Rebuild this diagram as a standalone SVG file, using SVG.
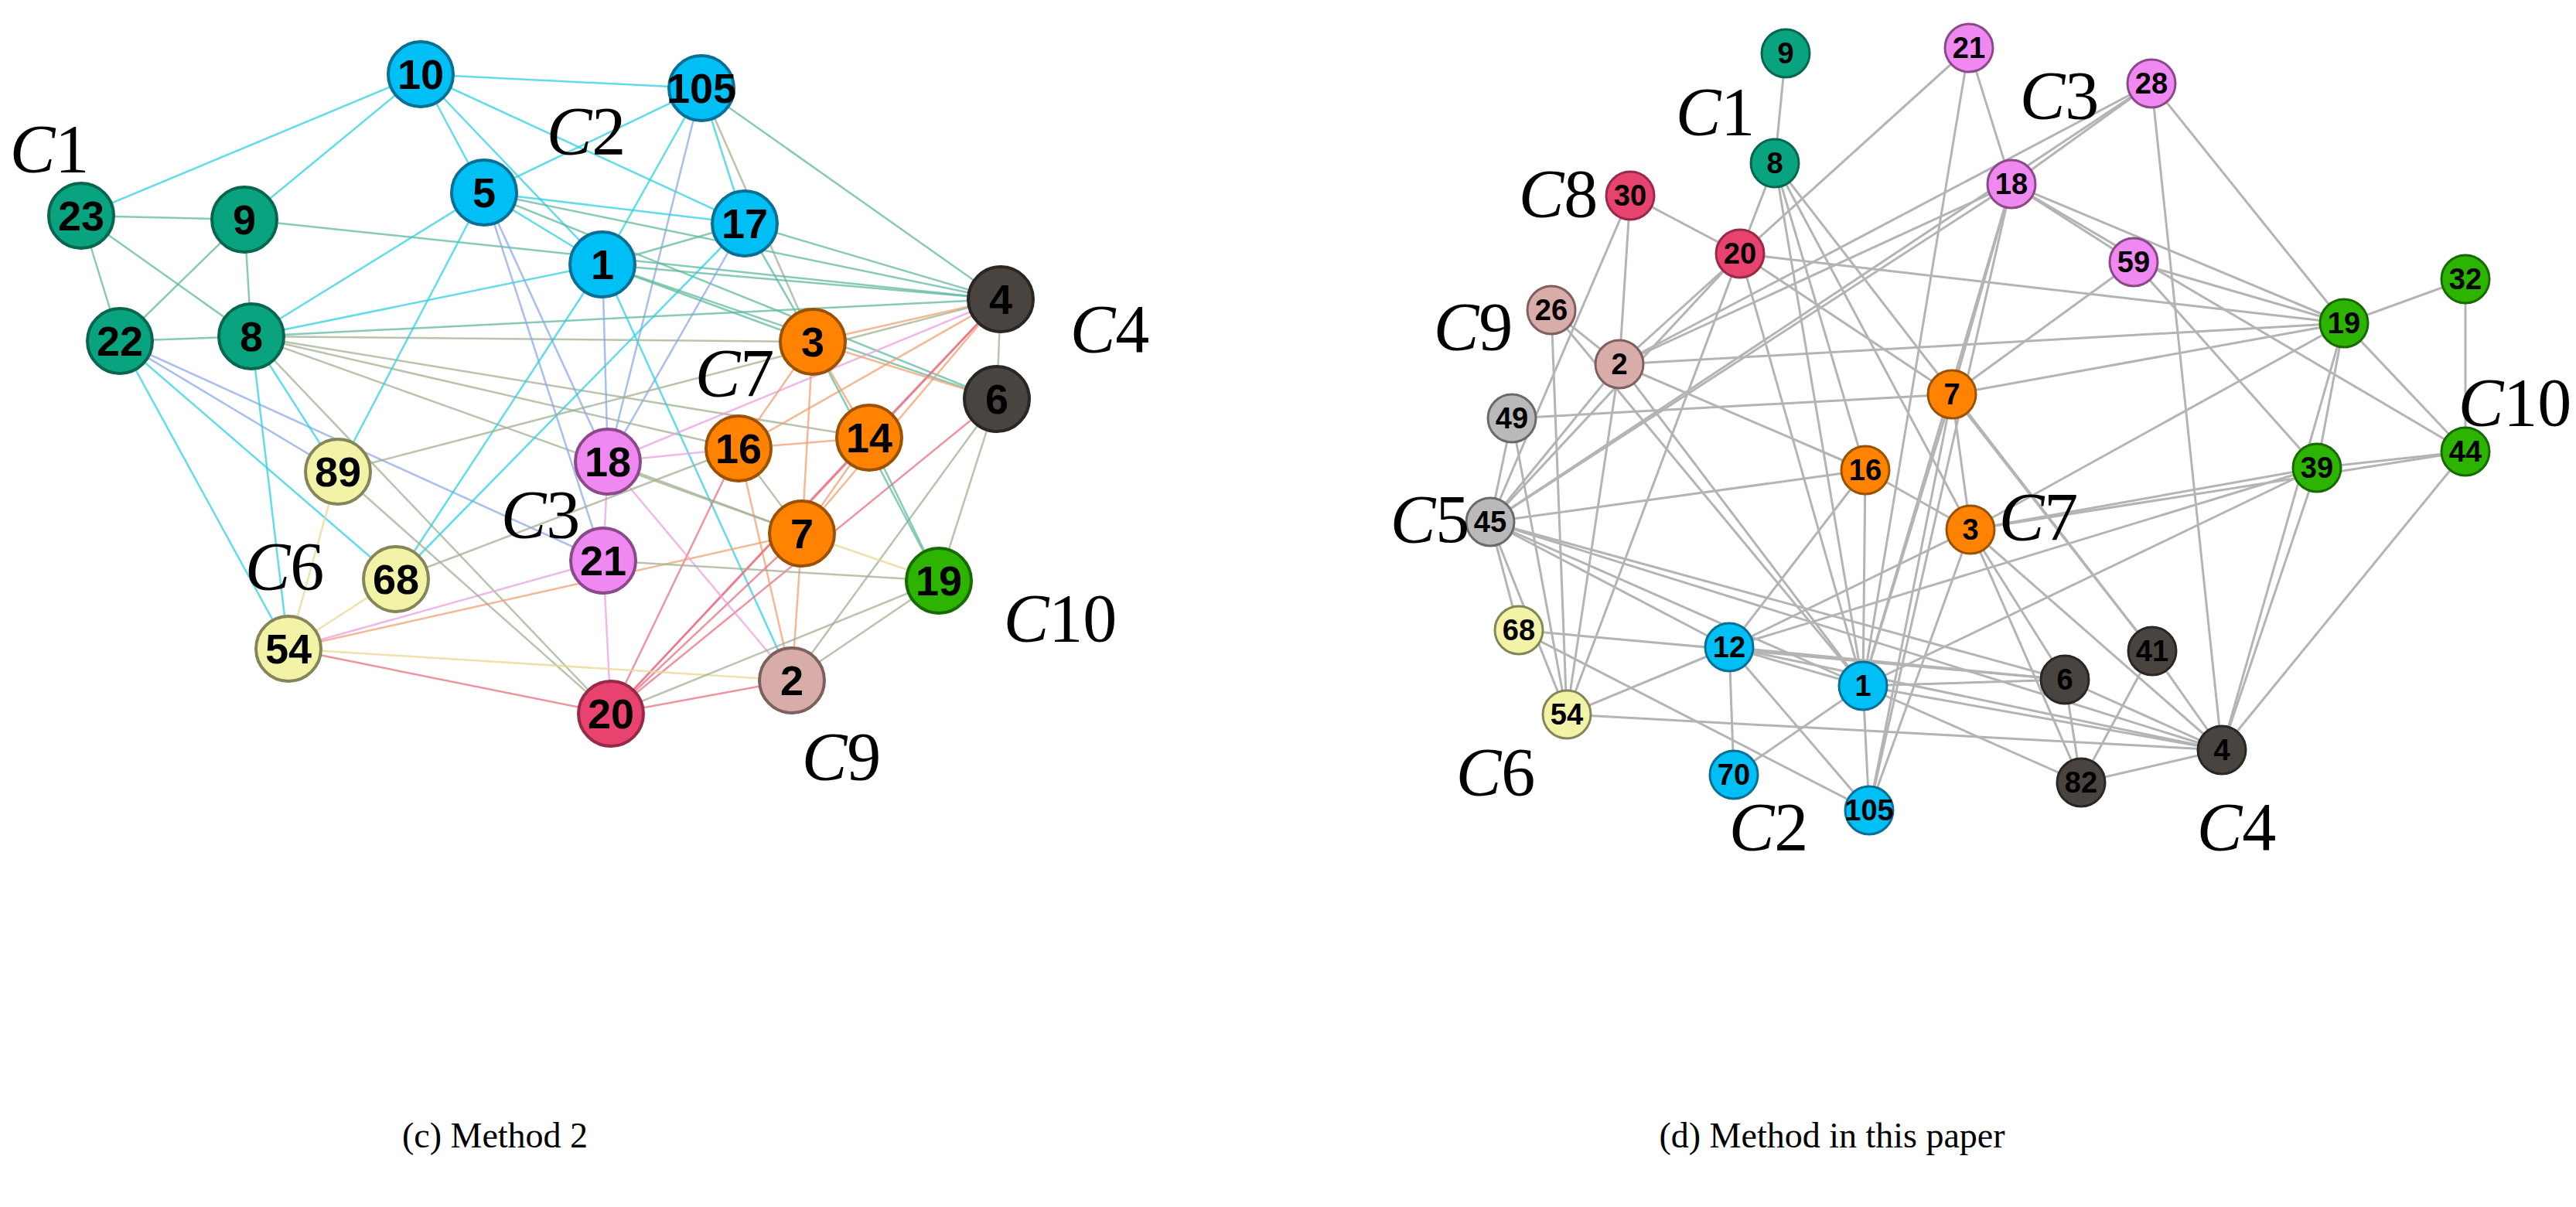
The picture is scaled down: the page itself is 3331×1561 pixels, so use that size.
<svg xmlns="http://www.w3.org/2000/svg" width="3331" height="1561" viewBox="0 0 3331 1561">
<style>
.L circle{stroke-width:4}
.L text{font:bold 54px "Liberation Sans",Arial,sans-serif;text-anchor:middle;dominant-baseline:central;fill:#000}
.R circle{stroke-width:3}
.R text{font:bold 38px "Liberation Sans",Arial,sans-serif;text-anchor:middle;dominant-baseline:central;fill:#000}
.c1{fill:#0aa37f;stroke:#07664f}.c2{fill:#00bff5;stroke:#0a6f95}.c3{fill:#ef88f0;stroke:#8a4a8a}.c4{fill:#4a4440;stroke:#2a2624}
.c5{fill:#b9b9b9;stroke:#6a6a6a}.c6{fill:#f3f3a8;stroke:#85855a}.c7{fill:#ff8200;stroke:#9a5200}.c8{fill:#e8426e;stroke:#962a48}
.c9{fill:#d8aca8;stroke:#7e605e}.c10{fill:#2db400;stroke:#176a00}
.lab{font:88px "Liberation Serif","Times New Roman",serif;text-anchor:middle;dominant-baseline:central;fill:#000}
.cap{font:46px "Liberation Serif","Times New Roman",serif;text-anchor:middle;fill:#000}
#edgesL line{stroke-width:2.5;stroke-opacity:.75}
#edgesR line{stroke:#b4b4b4;stroke-width:3}
.a{stroke:#2ed0e0}.b{stroke:#5fb8a0}.o{stroke:#f0a070}.p{stroke:#e8a0e0}.g{stroke:#a0b090}.r{stroke:#e87080}.y{stroke:#e8d890}.u{stroke:#8aa8e8}
</style>
<g id="edgesL">
<line class="a" x1="544" y1="96" x2="907" y2="114"/><line class="a" x1="544" y1="96" x2="105" y2="279"/><line class="a" x1="544" y1="96" x2="316" y2="284"/>
<line class="a" x1="544" y1="96" x2="626" y2="249"/><line class="a" x1="544" y1="96" x2="779" y2="342"/><line class="a" x1="544" y1="96" x2="963" y2="289"/>
<line class="a" x1="907" y1="114" x2="626" y2="249"/><line class="a" x1="907" y1="114" x2="963" y2="289"/><line class="a" x1="907" y1="114" x2="779" y2="342"/>
<line class="u" x1="907" y1="114" x2="786" y2="597"/><line class="b" x1="907" y1="114" x2="1294" y2="387"/><line class="g" x1="907" y1="114" x2="1051" y2="442"/>
<line class="b" x1="105" y1="279" x2="316" y2="284"/><line class="b" x1="105" y1="279" x2="155" y2="441"/><line class="b" x1="105" y1="279" x2="325" y2="435"/>
<line class="b" x1="316" y1="284" x2="155" y2="441"/><line class="b" x1="316" y1="284" x2="325" y2="435"/><line class="b" x1="316" y1="284" x2="1294" y2="387"/>
<line class="b" x1="155" y1="441" x2="325" y2="435"/><line class="u" x1="155" y1="441" x2="437" y2="610"/><line class="a" x1="155" y1="441" x2="373" y2="839"/>
<line class="a" x1="155" y1="441" x2="512" y2="749"/><line class="u" x1="155" y1="441" x2="780" y2="725"/>
<line class="a" x1="325" y1="435" x2="626" y2="249"/><line class="a" x1="325" y1="435" x2="779" y2="342"/><line class="b" x1="325" y1="435" x2="1294" y2="387"/>
<line class="g" x1="325" y1="435" x2="1051" y2="442"/><line class="g" x1="325" y1="435" x2="1124" y2="566"/><line class="g" x1="325" y1="435" x2="1037" y2="690"/>
<line class="g" x1="325" y1="435" x2="955" y2="580"/><line class="a" x1="325" y1="435" x2="437" y2="610"/><line class="a" x1="325" y1="435" x2="373" y2="839"/>
<line class="g" x1="325" y1="435" x2="790" y2="923"/>
<line class="a" x1="626" y1="249" x2="963" y2="289"/><line class="a" x1="626" y1="249" x2="779" y2="342"/><line class="b" x1="626" y1="249" x2="1294" y2="387"/>
<line class="u" x1="626" y1="249" x2="786" y2="597"/><line class="u" x1="626" y1="249" x2="780" y2="725"/><line class="a" x1="626" y1="249" x2="437" y2="610"/>
<line class="b" x1="626" y1="249" x2="1289" y2="516"/>
<line class="b" x1="963" y1="289" x2="779" y2="342"/><line class="b" x1="963" y1="289" x2="1294" y2="387"/><line class="b" x1="963" y1="289" x2="1051" y2="442"/>
<line class="u" x1="963" y1="289" x2="786" y2="597"/><line class="a" x1="963" y1="289" x2="512" y2="749"/>
<line class="u" x1="779" y1="342" x2="786" y2="597"/><line class="b" x1="779" y1="342" x2="1051" y2="442"/><line class="b" x1="779" y1="342" x2="1294" y2="387"/>
<line class="a" x1="779" y1="342" x2="1024" y2="880"/><line class="a" x1="779" y1="342" x2="512" y2="749"/><line class="b" x1="779" y1="342" x2="1289" y2="516"/>
<line class="g" x1="1294" y1="387" x2="1289" y2="516"/><line class="o" x1="1294" y1="387" x2="1051" y2="442"/><line class="o" x1="1294" y1="387" x2="955" y2="580"/>
<line class="r" x1="1294" y1="387" x2="1124" y2="566"/><line class="p" x1="1294" y1="387" x2="786" y2="597"/><line class="o" x1="1294" y1="387" x2="1037" y2="690"/>
<line class="r" x1="1294" y1="387" x2="790" y2="923"/><line class="g" x1="1294" y1="387" x2="437" y2="610"/>
<line class="g" x1="1289" y1="516" x2="1214" y2="751"/><line class="r" x1="1289" y1="516" x2="790" y2="923"/><line class="g" x1="1289" y1="516" x2="1024" y2="880"/>
<line class="o" x1="1051" y1="442" x2="955" y2="580"/><line class="o" x1="1051" y1="442" x2="1124" y2="566"/><line class="o" x1="1051" y1="442" x2="1037" y2="690"/>
<line class="b" x1="1051" y1="442" x2="1214" y2="751"/><line class="o" x1="1051" y1="442" x2="1289" y2="516"/>
<line class="o" x1="955" y1="580" x2="1124" y2="566"/><line class="p" x1="955" y1="580" x2="786" y2="597"/><line class="r" x1="955" y1="580" x2="790" y2="923"/>
<line class="o" x1="955" y1="580" x2="1024" y2="880"/><line class="g" x1="955" y1="580" x2="1037" y2="690"/>
<line class="o" x1="1124" y1="566" x2="1037" y2="690"/><line class="b" x1="1124" y1="566" x2="1214" y2="751"/><line class="r" x1="1124" y1="566" x2="790" y2="923"/>
<line class="y" x1="1037" y1="690" x2="1214" y2="751"/><line class="o" x1="1037" y1="690" x2="373" y2="839"/><line class="r" x1="1037" y1="690" x2="790" y2="923"/>
<line class="o" x1="1037" y1="690" x2="1024" y2="880"/>
<line class="p" x1="786" y1="597" x2="780" y2="725"/><line class="p" x1="786" y1="597" x2="1024" y2="880"/><line class="g" x1="786" y1="597" x2="1037" y2="690"/>
<line class="p" x1="780" y1="725" x2="790" y2="923"/><line class="g" x1="780" y1="725" x2="1214" y2="751"/><line class="p" x1="780" y1="725" x2="373" y2="839"/>
<line class="g" x1="437" y1="610" x2="790" y2="923"/><line class="y" x1="437" y1="610" x2="373" y2="839"/>
<line class="y" x1="512" y1="749" x2="373" y2="839"/><line class="g" x1="512" y1="749" x2="955" y2="580"/>
<line class="r" x1="373" y1="839" x2="790" y2="923"/><line class="y" x1="373" y1="839" x2="1024" y2="880"/>
<line class="g" x1="1214" y1="751" x2="790" y2="923"/><line class="g" x1="1214" y1="751" x2="1024" y2="880"/><line class="r" x1="1024" y1="880" x2="790" y2="923"/>
</g>
<g id="edgesR">
<line x1="2309" y1="69" x2="2295" y2="211"/>
<line x1="2108" y1="253" x2="2250" y2="328"/><line x1="2108" y1="253" x2="2094" y2="471"/><line x1="2108" y1="253" x2="1927" y2="675"/>
<line x1="2546" y1="62" x2="2094" y2="471"/><line x1="2546" y1="62" x2="2601" y2="238"/><line x1="2546" y1="62" x2="2409" y2="887"/>
<line x1="2782" y1="108" x2="2601" y2="238"/><line x1="2782" y1="108" x2="2094" y2="471"/><line x1="2782" y1="108" x2="1927" y2="675"/>
<line x1="2782" y1="108" x2="3031" y2="418"/><line x1="2782" y1="108" x2="2873" y2="970"/>
<line x1="2601" y1="238" x2="2759" y2="339"/><line x1="2601" y1="238" x2="3031" y2="418"/><line x1="2601" y1="238" x2="3188" y2="584"/>
<line x1="2601" y1="238" x2="1927" y2="675"/><line x1="2601" y1="238" x2="2094" y2="471"/><line x1="2601" y1="238" x2="2524" y2="510"/>
<line x1="2601" y1="238" x2="2409" y2="887"/><line x1="2601" y1="238" x2="2417" y2="1048"/>
<line x1="2250" y1="328" x2="3031" y2="418"/><line x1="2250" y1="328" x2="2524" y2="510"/><line x1="2250" y1="328" x2="2409" y2="887"/>
<line x1="2250" y1="328" x2="1927" y2="675"/><line x1="2250" y1="328" x2="2026" y2="924"/><line x1="2295" y1="211" x2="2250" y2="328"/>
<line x1="2295" y1="211" x2="2409" y2="887"/><line x1="2295" y1="211" x2="2412" y2="608"/><line x1="2295" y1="211" x2="2783" y2="842"/><line x1="2295" y1="211" x2="2548" y2="685"/>
<line x1="2006" y1="401" x2="2094" y2="471"/><line x1="2006" y1="401" x2="2026" y2="924"/><line x1="2006" y1="401" x2="2409" y2="887"/>
<line x1="2094" y1="471" x2="3031" y2="418"/><line x1="2094" y1="471" x2="2412" y2="608"/><line x1="2094" y1="471" x2="2409" y2="887"/>
<line x1="2094" y1="471" x2="1927" y2="675"/><line x1="2094" y1="471" x2="2026" y2="924"/>
<line x1="2759" y1="339" x2="2524" y2="510"/><line x1="2759" y1="339" x2="2996" y2="605"/><line x1="2759" y1="339" x2="3031" y2="418"/>
<line x1="3031" y1="418" x2="3188" y2="361"/><line x1="3031" y1="418" x2="2996" y2="605"/><line x1="3031" y1="418" x2="3188" y2="584"/>
<line x1="3031" y1="418" x2="2548" y2="685"/><line x1="3031" y1="418" x2="2873" y2="970"/><line x1="3031" y1="418" x2="2524" y2="510"/>
<line x1="3188" y1="361" x2="3188" y2="584"/>
<line x1="1955" y1="541" x2="2524" y2="510"/><line x1="1955" y1="541" x2="1927" y2="675"/><line x1="1955" y1="541" x2="2026" y2="924"/>
<line x1="2524" y1="510" x2="2417" y2="1048"/><line x1="2524" y1="510" x2="2409" y2="887"/><line x1="2524" y1="510" x2="2783" y2="842"/><line x1="2524" y1="510" x2="2548" y2="685"/>
<line x1="2412" y1="608" x2="1927" y2="675"/><line x1="2412" y1="608" x2="2548" y2="685"/><line x1="2412" y1="608" x2="2236" y2="837"/><line x1="2412" y1="608" x2="2409" y2="887"/>
<line x1="2996" y1="605" x2="2548" y2="685"/><line x1="2996" y1="605" x2="3188" y2="584"/><line x1="2996" y1="605" x2="2236" y2="837"/>
<line x1="2996" y1="605" x2="2873" y2="970"/><line x1="2996" y1="605" x2="2409" y2="887"/>
<line x1="3188" y1="584" x2="2873" y2="970"/><line x1="3188" y1="584" x2="2548" y2="685"/>
<line x1="1927" y1="675" x2="1964" y2="815"/><line x1="1927" y1="675" x2="2670" y2="879"/><line x1="1927" y1="675" x2="2873" y2="970"/>
<line x1="1927" y1="675" x2="2409" y2="887"/><line x1="1927" y1="675" x2="2026" y2="924"/><line x1="1927" y1="675" x2="2236" y2="837"/>
<line x1="2548" y1="685" x2="2236" y2="837"/><line x1="2548" y1="685" x2="2670" y2="879"/><line x1="2548" y1="685" x2="2691" y2="1012"/>
<line x1="2548" y1="685" x2="2873" y2="970"/><line x1="2548" y1="685" x2="2417" y2="1048"/>
<line x1="1964" y1="815" x2="2670" y2="879"/><line x1="1964" y1="815" x2="2417" y2="1048"/>
<line x1="2236" y1="837" x2="2409" y2="887"/><line x1="2236" y1="837" x2="2242" y2="1002"/><line x1="2236" y1="837" x2="2026" y2="924"/>
<line x1="2236" y1="837" x2="2417" y2="1048"/><line x1="2236" y1="837" x2="2670" y2="879"/><line x1="2236" y1="837" x2="2873" y2="970"/>
<line x1="2409" y1="887" x2="2670" y2="879"/><line x1="2409" y1="887" x2="2873" y2="970"/><line x1="2409" y1="887" x2="2691" y2="1012"/>
<line x1="2409" y1="887" x2="2417" y2="1048"/><line x1="2409" y1="887" x2="2242" y2="1002"/>
<line x1="2670" y1="879" x2="2873" y2="970"/><line x1="2670" y1="879" x2="2691" y2="1012"/>
<line x1="2783" y1="842" x2="2873" y2="970"/><line x1="2783" y1="842" x2="2691" y2="1012"/>
<line x1="2026" y1="924" x2="2873" y2="970"/><line x1="2691" y1="1012" x2="2873" y2="970"/>
</g>
<g class="L">
<g id="L10"><circle class="c2" cx="544" cy="96" r="42"/><text x="544" y="96">10</text></g>
<g id="L105"><circle class="c2" cx="907" cy="114" r="42"/><text x="907" y="114">105</text></g>
<g id="L5"><circle class="c2" cx="626" cy="249" r="42"/><text x="626" y="249">5</text></g>
<g id="L17"><circle class="c2" cx="963" cy="289" r="42"/><text x="963" y="289">17</text></g>
<g id="L1"><circle class="c2" cx="779" cy="342" r="42"/><text x="779" y="342">1</text></g>
<g id="L23"><circle class="c1" cx="105" cy="279" r="42"/><text x="105" y="279">23</text></g>
<g id="L9"><circle class="c1" cx="316" cy="284" r="42"/><text x="316" y="284">9</text></g>
<g id="L22"><circle class="c1" cx="155" cy="441" r="42"/><text x="155" y="441">22</text></g>
<g id="L8"><circle class="c1" cx="325" cy="435" r="42"/><text x="325" y="435">8</text></g>
<g id="L4"><circle class="c4" cx="1294" cy="387" r="42"/><text x="1294" y="387">4</text></g>
<g id="L6"><circle class="c4" cx="1289" cy="516" r="42"/><text x="1289" y="516">6</text></g>
<g id="L3"><circle class="c7" cx="1051" cy="442" r="42"/><text x="1051" y="442">3</text></g>
<g id="L16"><circle class="c7" cx="955" cy="580" r="42"/><text x="955" y="580">16</text></g>
<g id="L14"><circle class="c7" cx="1124" cy="566" r="42"/><text x="1124" y="566">14</text></g>
<g id="L7"><circle class="c7" cx="1037" cy="690" r="42"/><text x="1037" y="690">7</text></g>
<g id="L18"><circle class="c3" cx="786" cy="597" r="42"/><text x="786" y="597">18</text></g>
<g id="L21"><circle class="c3" cx="780" cy="725" r="42"/><text x="780" y="725">21</text></g>
<g id="L89"><circle class="c6" cx="437" cy="610" r="42"/><text x="437" y="610">89</text></g>
<g id="L68"><circle class="c6" cx="512" cy="749" r="42"/><text x="512" y="749">68</text></g>
<g id="L54"><circle class="c6" cx="373" cy="839" r="42"/><text x="373" y="839">54</text></g>
<g id="L19"><circle class="c10" cx="1214" cy="751" r="42"/><text x="1214" y="751">19</text></g>
<g id="L2"><circle class="c9" cx="1024" cy="880" r="42"/><text x="1024" y="880">2</text></g>
<g id="L20"><circle class="c8" cx="790" cy="923" r="42"/><text x="790" y="923">20</text></g>
</g>
<g class="R">
<g id="R9"><circle class="c1" cx="2309" cy="69" r="31"/><text x="2309" y="69">9</text></g>
<g id="R21"><circle class="c3" cx="2546" cy="62" r="31"/><text x="2546" y="62">21</text></g>
<g id="R28"><circle class="c3" cx="2782" cy="108" r="31"/><text x="2782" y="108">28</text></g>
<g id="R8"><circle class="c1" cx="2295" cy="211" r="31"/><text x="2295" y="211">8</text></g>
<g id="R30"><circle class="c8" cx="2108" cy="253" r="31"/><text x="2108" y="253">30</text></g>
<g id="R18"><circle class="c3" cx="2601" cy="238" r="31"/><text x="2601" y="238">18</text></g>
<g id="R20"><circle class="c8" cx="2250" cy="328" r="31"/><text x="2250" y="328">20</text></g>
<g id="R59"><circle class="c3" cx="2759" cy="339" r="31"/><text x="2759" y="339">59</text></g>
<g id="R26"><circle class="c9" cx="2006" cy="401" r="31"/><text x="2006" y="401">26</text></g>
<g id="R19"><circle class="c10" cx="3031" cy="418" r="31"/><text x="3031" y="418">19</text></g>
<g id="R32"><circle class="c10" cx="3188" cy="361" r="31"/><text x="3188" y="361">32</text></g>
<g id="R2"><circle class="c9" cx="2094" cy="471" r="31"/><text x="2094" y="471">2</text></g>
<g id="R7"><circle class="c7" cx="2524" cy="510" r="31"/><text x="2524" y="510">7</text></g>
<g id="R49"><circle class="c5" cx="1955" cy="541" r="31"/><text x="1955" y="541">49</text></g>
<g id="R16"><circle class="c7" cx="2412" cy="608" r="31"/><text x="2412" y="608">16</text></g>
<g id="R39"><circle class="c10" cx="2996" cy="605" r="31"/><text x="2996" y="605">39</text></g>
<g id="R44"><circle class="c10" cx="3188" cy="584" r="31"/><text x="3188" y="584">44</text></g>
<g id="R45"><circle class="c5" cx="1927" cy="675" r="31"/><text x="1927" y="675">45</text></g>
<g id="R3"><circle class="c7" cx="2548" cy="685" r="31"/><text x="2548" y="685">3</text></g>
<g id="R68"><circle class="c6" cx="1964" cy="815" r="31"/><text x="1964" y="815">68</text></g>
<g id="R12"><circle class="c2" cx="2236" cy="837" r="31"/><text x="2236" y="837">12</text></g>
<g id="R1"><circle class="c2" cx="2409" cy="887" r="31"/><text x="2409" y="887">1</text></g>
<g id="R6"><circle class="c4" cx="2670" cy="879" r="31"/><text x="2670" y="879">6</text></g>
<g id="R41"><circle class="c4" cx="2783" cy="842" r="31"/><text x="2783" y="842">41</text></g>
<g id="R54"><circle class="c6" cx="2026" cy="924" r="31"/><text x="2026" y="924">54</text></g>
<g id="R4"><circle class="c4" cx="2873" cy="970" r="31"/><text x="2873" y="970">4</text></g>
<g id="R70"><circle class="c2" cx="2242" cy="1002" r="31"/><text x="2242" y="1002">70</text></g>
<g id="R82"><circle class="c4" cx="2691" cy="1012" r="31"/><text x="2691" y="1012">82</text></g>
<g id="R105"><circle class="c2" cx="2417" cy="1048" r="31"/><text x="2417" y="1048">105</text></g>
</g>
<g id="labels" class="lab">
<text x="64" y="192"><tspan font-style="italic">C</tspan>1</text>
<text x="758" y="169"><tspan font-style="italic">C</tspan>2</text>
<text x="1435" y="425"><tspan font-style="italic">C</tspan>4</text>
<text x="950" y="482"><tspan font-style="italic">C</tspan>7</text>
<text x="699" y="665"><tspan font-style="italic">C</tspan>3</text>
<text x="368" y="732"><tspan font-style="italic">C</tspan>6</text>
<text x="1371" y="799"><tspan font-style="italic">C</tspan>10</text>
<text x="1088" y="978"><tspan font-style="italic">C</tspan>9</text>
<text x="2218" y="144"><tspan font-style="italic">C</tspan>1</text>
<text x="2663" y="123"><tspan font-style="italic">C</tspan>3</text>
<text x="2015" y="250"><tspan font-style="italic">C</tspan>8</text>
<text x="1905" y="422"><tspan font-style="italic">C</tspan>9</text>
<text x="3252" y="520"><tspan font-style="italic">C</tspan>10</text>
<text x="1849" y="671"><tspan font-style="italic">C</tspan>5</text>
<text x="2636" y="668"><tspan font-style="italic">C</tspan>7</text>
<text x="1934" y="998"><tspan font-style="italic">C</tspan>6</text>
<text x="2287" y="1069"><tspan font-style="italic">C</tspan>2</text>
<text x="2892" y="1069"><tspan font-style="italic">C</tspan>4</text>
</g>
<text class="cap" x="640" y="1484">(c) Method 2</text>
<text class="cap" x="2369" y="1484">(d) Method in this paper</text>
</svg>
